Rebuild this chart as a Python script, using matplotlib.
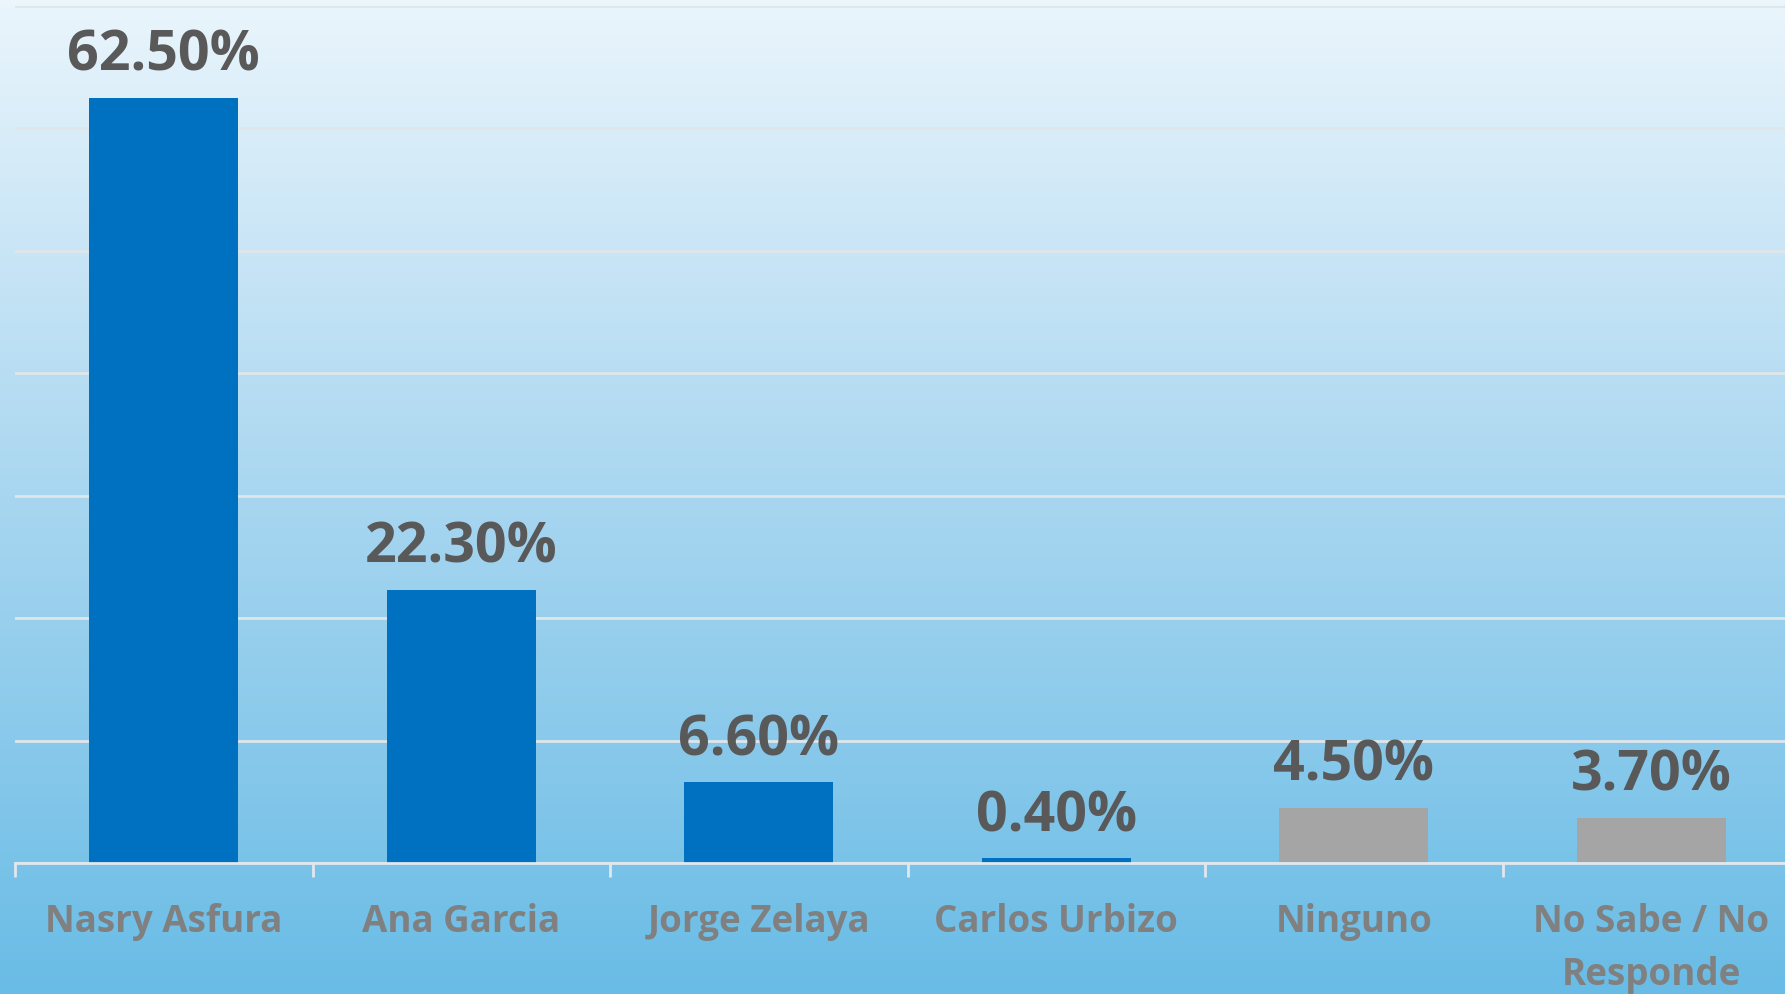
import matplotlib.pyplot as plt
import numpy as np
from matplotlib.colors import LinearSegmentedColormap

candidates = ["Nasry Asfura", "Ana Garcia", "Jorge Zelaya", "Carlos Urbizo", "Ninguno", "No Sabe / No\nResponde"]
values = [62.5, 22.3, 6.6, 0.4, 4.5, 3.7]
bar_colors = ["#0070c0", "#0070c0", "#0070c0", "#0070c0", "#a5a5a5", "#a5a5a5"]

plt.rcParams['font.family'] = ['Open Sans', 'DejaVu Sans']

fig = plt.figure(figsize=(17.85, 9.94), dpi=100)

# background gradient
bg = fig.add_axes([0, 0, 1, 1], zorder=0)
grad = np.linspace(0, 1, 256).reshape(-1, 1)
cmap = LinearSegmentedColormap.from_list("bg", ["#eaf5fc", "#a8d6f0", "#69bce6"])
bg.imshow(grad, aspect='auto', cmap=cmap, extent=[0, 1, 0, 1], origin='upper')
bg.axis('off')

ax = fig.add_axes([15 / 1785, 131 / 994, 1785 / 1785, 857 / 994], zorder=1)
ax.patch.set_alpha(0)

x = np.arange(len(candidates))
bars = ax.bar(x, values, width=0.5, color=bar_colors, zorder=3)

for xi, v in zip(x, values):
    ax.annotate(f"{v:.2f}%", (xi, v), xytext=(0, 19.5), textcoords='offset points',
                ha='center', va='baseline', fontsize=40, fontweight='bold', color='#595959')

ax.set_xlim(-0.5, 5.5)
ax.set_ylim(0, 70)
ax.set_yticks(np.arange(0, 71, 10))
ax.yaxis.grid(True, color='#dfe6ea', linewidth=2, zorder=0)
ax.tick_params(axis='y', left=False, labelleft=False)

ax.set_xticks(x)
ax.set_xticklabels(candidates, fontsize=26.5, fontweight='bold', color='#808080', linespacing=1.5)
ax.set_xticks(np.arange(-0.5, 6, 1), minor=True)
ax.tick_params(axis='x', which='major', length=0, pad=29)
ax.tick_params(axis='x', which='minor', length=10, width=2, color='#e0e8ee')

for s in ['top', 'right', 'left']:
    ax.spines[s].set_visible(False)
ax.spines['bottom'].set_color('#e0e8ee')
ax.spines['bottom'].set_linewidth(2)
ax.spines['bottom'].set_zorder(4)

fig.savefig("out.png", dpi=100)
